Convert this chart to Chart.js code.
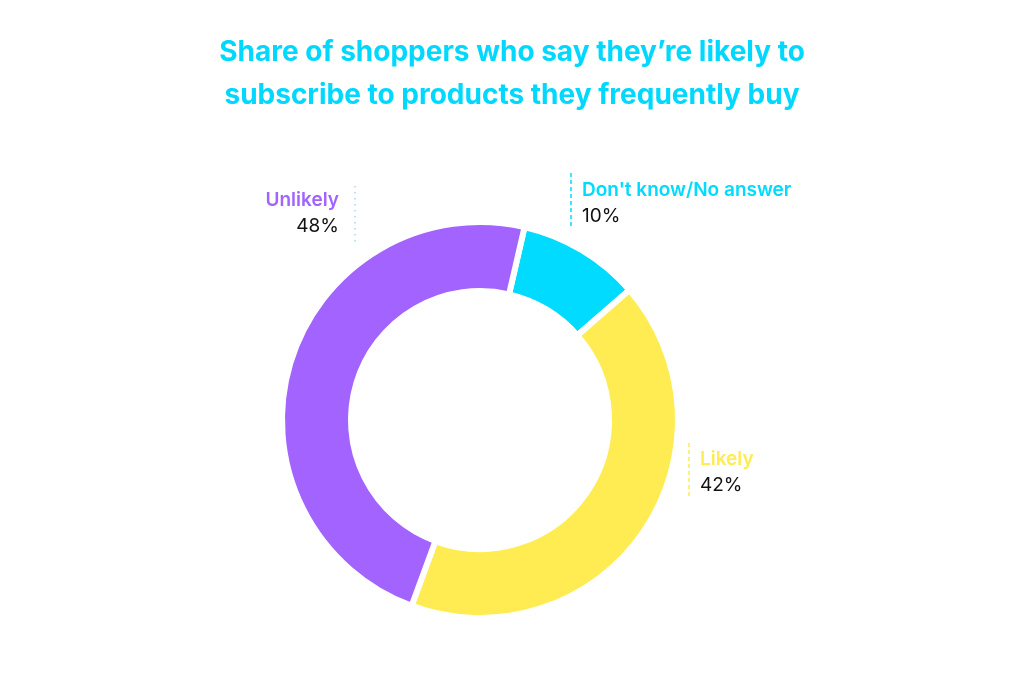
<!DOCTYPE html>
<html>
<head>
<meta charset="utf-8">
<title>Subscription likelihood</title>
<script src="https://cdn.jsdelivr.net/npm/chart.js@4.4.0/dist/chart.umd.min.js"></script>
<style>
    html, body { margin: 0; padding: 0; background: #fff; }
    #wrap { position: relative; width: 1024px; height: 673px; }
</style>
</head>
<body>
<div id="wrap"><canvas id="donutChart"></canvas></div>
<script>
// ============================================================
// DATA
// ============================================================
const categories = ["Don't know/No answer", 'Likely', 'Unlikely'];
const shares = [10, 42, 48];
const sliceColors = ['#00dbff', '#ffec52', '#a263ff'];
const titleLines = ['Share of shoppers who say they\u2019re likely to', 'subscribe to products they frequently buy'];

// callout layout (one per category, same order)
const callouts = [
    { x: 582, align: 'left',  y: 196, lineX: 571, lineTop: 173, lineBottom: 227, dash: [4, 3],     lineColor: '#00dbff' },
    { x: 700, align: 'left',  y: 465, lineX: 689, lineTop: 443, lineBottom: 497, dash: [4, 3],     lineColor: '#ffec52' },
    { x: 339, align: 'right', y: 206, lineX: 355, lineTop: 186, lineBottom: 244, dash: [1.5, 4.5], lineColor: '#a9d6ee' }
];

const FONT = 'Inter, "Noto Sans", sans-serif';

// title + callout labels drawn on the canvas
const labelPlugin = {
    id: 'labelPlugin',
    afterDraw(chart) {
        const ctx = chart.ctx;
        ctx.save();

        // title
        ctx.fillStyle = '#00d8ff';
        ctx.font = '700 28px ' + FONT;
        ctx.textAlign = 'center';
        ctx.textBaseline = 'alphabetic';
        ctx.fillText(titleLines[0], 512, 60.5);
        ctx.fillText(titleLines[1], 512, 104);

        // callouts
        const values = chart.data.datasets[0].data;
        chart.data.labels.forEach((name, i) => {
            const c = callouts[i];
            ctx.beginPath();
            ctx.setLineDash(c.dash);
            ctx.lineWidth = 1.5;
            ctx.strokeStyle = c.lineColor;
            ctx.moveTo(c.lineX, c.lineTop);
            ctx.lineTo(c.lineX, c.lineBottom);
            ctx.stroke();
            ctx.setLineDash([]);

            ctx.textAlign = c.align;
            ctx.fillStyle = sliceColors[i];
            ctx.font = '600 19px ' + FONT;
            ctx.fillText(name, c.x, c.y);
            ctx.fillStyle = '#111';
            ctx.font = '400 19px ' + FONT;
            ctx.fillText(values[i] + '%', c.x, c.y + 26);
        });
        ctx.restore();
    }
};

const ctxDonut = document.getElementById('donutChart').getContext('2d');
const donutChart = new Chart(ctxDonut, {
    type: 'doughnut',
    data: {
        labels: categories,
        datasets: [{ data: shares, backgroundColor: sliceColors, borderColor: '#ffffff', borderWidth: 6, hoverOffset: 0 }]
    },
    options: {
        responsive: true,
        maintainAspectRatio: false,
        animation: false,
        rotation: 13,
        cutout: '65.15%',
        layout: { padding: { left: 279, right: 343, top: 219, bottom: 52 } },
        plugins: { legend: { display: false }, tooltip: { enabled: false }, title: { display: false } }
    },
    plugins: [labelPlugin]
});
</script>
</body>
</html>
